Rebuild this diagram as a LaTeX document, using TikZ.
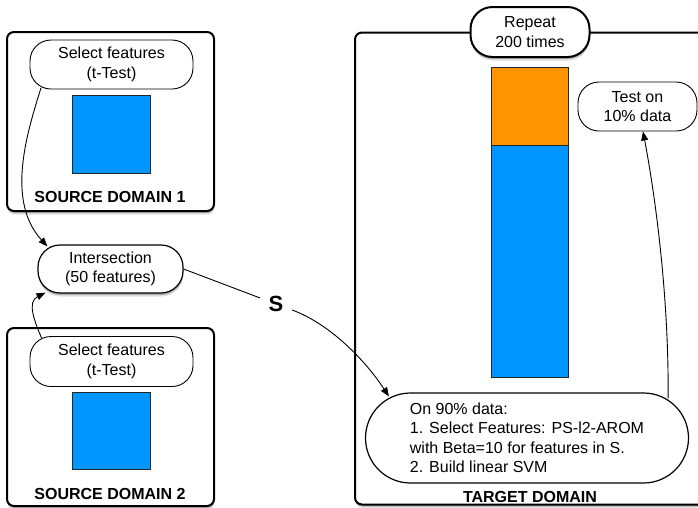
\documentclass[tikz,border=0pt]{standalone}
\usepackage{fontspec}
\setmainfont{Liberation Sans}
\usetikzlibrary{shadows,arrows.meta,calc}
\definecolor{boxblue}{RGB}{0,150,255}
\definecolor{boxorange}{RGB}{255,147,0}
\begin{document}
\begin{tikzpicture}[x=1pt,y=-1pt,
  font=\fontsize{16}{19.5}\selectfont,
  dshadow/.style={drop shadow={shadow xshift=0.3pt,shadow yshift=-3.5pt,opacity=0.12,fill=black},
                  drop shadow={shadow xshift=0.3pt,shadow yshift=-2pt,opacity=0.22,fill=black}},
  domainbox/.style={draw=black,line width=2pt,rounded corners=7pt,fill=white,dshadow,inner sep=0pt},
  pill/.style={draw=black,line width=0.9pt,fill=white,rectangle,rounded corners=21pt,inner sep=0pt,align=center},
  datablock/.style={draw=black!85,line width=0.8pt,inner sep=0pt},
  titletext/.style={font=\fontsize{16}{19.5}\selectfont\bfseries},
  arr/.style={line width=0.9pt,-{Triangle[length=9pt,width=7pt]}},
  conn/.style={line width=0.9pt}
]
\useasboundingbox (0,0) rectangle (698,507);
\path[clip] (0,0) rectangle (698,507);

% domain boxes
\node[domainbox,minimum width=207pt,minimum height=179pt] (sd1) at (110.5,121.5) {};
\node[domainbox,minimum width=207pt,minimum height=178pt] (sd2) at (110.5,417) {};
\node[domainbox,minimum width=375pt,minimum height=472pt] (td) at (542.5,268.5) {};

% source domain 1
\node[pill,minimum width=163pt,minimum height=49pt] (sel1) at (111.5,64.5) {Select features\\(t-Test)};
\node[datablock,fill=boxblue,minimum width=78pt,minimum height=78pt] (blue1) at (111,134) {};
\node[titletext] (t1) at (110,196.5) {SOURCE DOMAIN 1};

% source domain 2
\node[pill,minimum width=163pt,minimum height=50pt] (sel2) at (111.5,361.5) {Select features\\(t-Test)};
\node[datablock,fill=boxblue,minimum width=78pt,minimum height=77pt] (blue2) at (111,430.5) {};
\node[titletext] (t2) at (110,494) {SOURCE DOMAIN 2};

% intersection
\node[pill,line width=1.2pt,dshadow,minimum width=145pt,minimum height=48pt,rounded corners=22pt] (inter) at (110.5,269) {Intersection\\(50 features)};

% target domain
\node[pill,line width=2pt,dshadow,minimum width=119pt,minimum height=50pt,rounded corners=22pt] (rep) at (530,32) {Repeat\\200 times};
\node[datablock,fill=boxorange,minimum width=77pt,minimum height=78pt] (orng) at (529.5,106.5) {};
\node[datablock,fill=boxblue,minimum width=77pt,minimum height=232pt] (blue3) at (529.5,261) {};
\node[pill,minimum width=119pt,minimum height=49pt] (test) at (637.5,106.5) {Test on\\10\% data};
\node[pill,line width=1.2pt,align=left,minimum width=323pt,minimum height=90pt,rounded corners=45pt] (on90) at (527,438) {On 90\% data:\\1. Select Features: PS-l2-AROM\\with Beta=10 for features in S.\\2. Build linear SVM};
\node[titletext] (t3) at (530,497) {TARGET DOMAIN};

% S label
\node[font=\fontsize{22}{24}\selectfont\bfseries,minimum width=32pt,minimum height=16pt,inner sep=0pt] (slbl) at (276,304) {S};

% connectors
\draw[arr] ([xshift=11.5pt,yshift=1.8pt]sel1.south west) .. controls (28,130) and (5,200) .. ([xshift=10pt,yshift=-2pt]inter.north west);
\draw[arr] ([xshift=12pt,yshift=-2pt]sel2.north west) .. controls (34,320) and (27,302) .. ([xshift=8pt,yshift=1pt]inter.south west);
\draw[conn] (inter.east) -- (slbl);
\draw[arr] (slbl) .. controls (330,324) and (365,360) .. ([xshift=24pt,yshift=-4pt]on90.north west);
\draw[arr] ([xshift=-21pt,yshift=-6pt]on90.north east) .. controls (669,300) and (656,200) .. ([xshift=5.5pt]test.south);
\end{tikzpicture}
\end{document}
